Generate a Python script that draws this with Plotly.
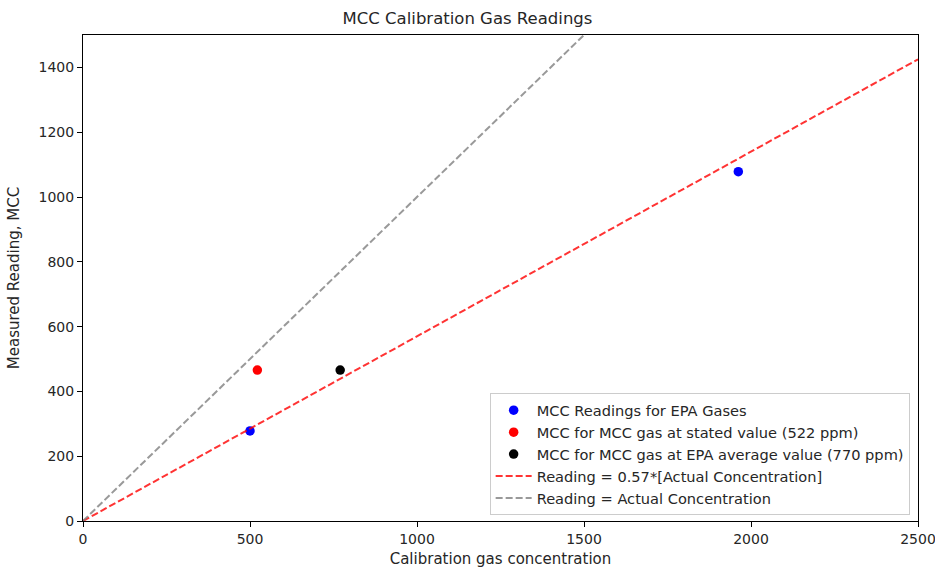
import plotly.graph_objects as go

# Data
epa_x = [500, 1962]
epa_y = [278, 1078]
stated_x = [522]
stated_y = [466]
avg_x = [770]
avg_y = [466]
fit_slope = 0.57
line_x = [0, 2500]
ident_x = [0, 1500]
x_ticks = [0, 500, 1000, 1500, 2000, 2500]
y_ticks = [0, 200, 400, 600, 800, 1000, 1200, 1400]

FONT = "DejaVu Sans"
TXT = "#262626"

fig = go.Figure()
fig.add_trace(go.Scatter(x=epa_x, y=epa_y, mode="markers",
                         marker=dict(color="blue", size=9.5),
                         name="MCC Readings for EPA Gases"))
fig.add_trace(go.Scatter(x=stated_x, y=stated_y, mode="markers",
                         marker=dict(color="red", size=9.5),
                         name="MCC for MCC gas at stated value (522 ppm)"))
fig.add_trace(go.Scatter(x=avg_x, y=avg_y, mode="markers",
                         marker=dict(color="black", size=9.5),
                         name="MCC for MCC gas at EPA average value (770 ppm)"))
fig.add_trace(go.Scatter(x=line_x, y=[fit_slope * v for v in line_x], mode="lines",
                         line=dict(color="rgba(255,0,0,0.8)", width=2, dash="7px,3px"),
                         name="Reading = 0.57*[Actual Concentration]"))
fig.add_trace(go.Scatter(x=ident_x, y=ident_x, mode="lines",
                         line=dict(color="rgba(128,128,128,0.8)", width=2, dash="7px,3px"),
                         name="Reading = Actual Concentration"))

axis_common = dict(showgrid=False, zeroline=False, showline=True, linecolor="black",
                   linewidth=1, mirror=True, ticks="outside", ticklen=5,
                   tickcolor="black", automargin=False, ticklabeloverflow="allow",
                   tickfont=dict(family=FONT, size=14, color=TXT))

fig.update_layout(
    width=935, height=568,
    plot_bgcolor="white", paper_bgcolor="white",
    margin=dict(l=83, r=17, t=35, b=47),
    title=dict(text="MCC Calibration Gas Readings", x=0.5, xanchor="center",
               y=1 - 18 / 568, yanchor="middle",
               font=dict(family=FONT, size=16.5, color=TXT)),
    xaxis=dict(range=[0, 2500], tickvals=x_ticks,
               title=dict(text="Calibration gas concentration",
                          font=dict(family=FONT, size=15, color=TXT)),
               **axis_common),
    yaxis=dict(range=[0, 1500], tickvals=y_ticks,
               title=dict(text="Measured Reading, MCC",
                          font=dict(family=FONT, size=15, color=TXT)),
               **axis_common),
    legend=dict(x=0.990, y=0.012, xanchor="right", yanchor="bottom",
                bgcolor="rgba(255,255,255,0.8)", bordercolor="#cccccc", borderwidth=1,
                font=dict(family=FONT, size=14.6, color=TXT),
                itemwidth=36, tracegroupgap=0),
    showlegend=True,
)

fig.write_html("out.html", config={"displayModeBar": False},
               post_script="document.body.style.margin='0';document.body.style.overflow='hidden';")
